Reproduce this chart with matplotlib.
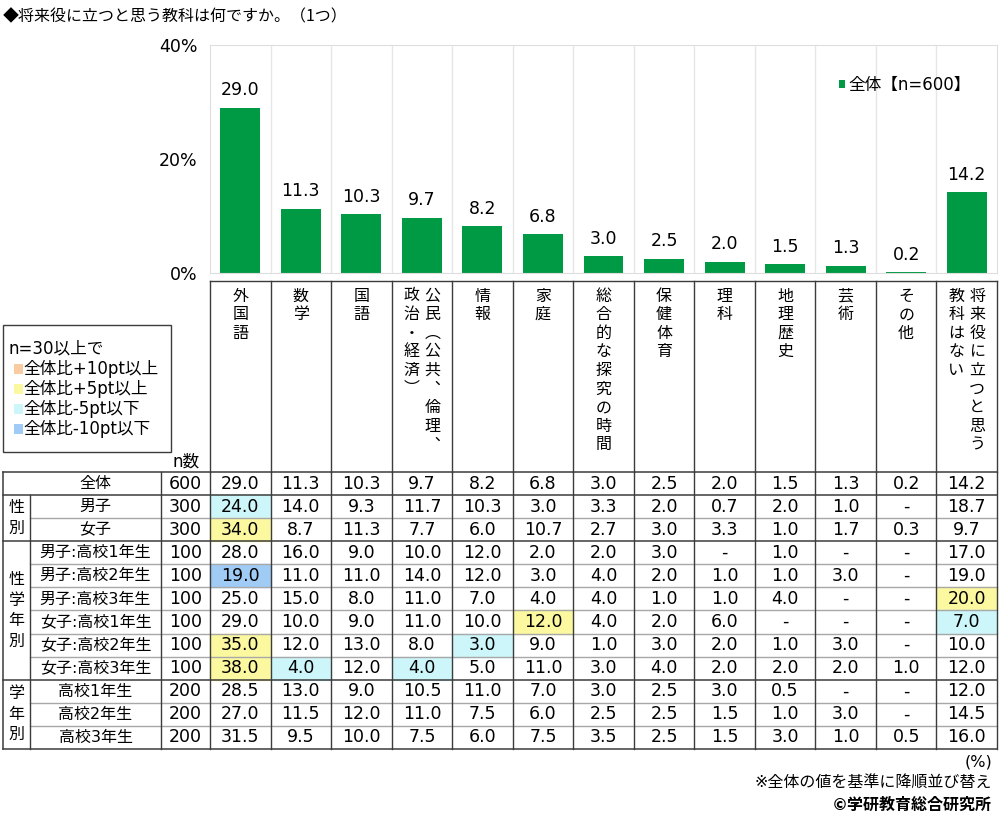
import matplotlib.pyplot as plt
from matplotlib.patches import Rectangle

# Latin glyphs from DejaVu (Verdana-like), Japanese from Noto Sans CJK JP
plt.rcParams['font.family'] = ['DejaVu Sans', 'Noto Sans CJK JP']

# ---- data ----
subjects = ['外国語', '数学', '国語', '公民（公共、倫理、政治・経済）', '情報', '家庭',
            '総合的な探究の時間', '保健体育', '理科', '地理歴史', '芸術', 'その他',
            '将来役に立つと思う教科はない']
# vertical header text, columns listed right to left
header_cols = [['外国語'], ['数学'], ['国語'], ['公民︵公共︑倫理︑', '政治・経済︶'],
               ['情報'], ['家庭'], ['総合的な探究の時間'], ['保健体育'], ['理科'],
               ['地理歴史'], ['芸術'], ['その他'], ['将来役に立つと思う', '教科はない']]
overall = [29.0, 11.3, 10.3, 9.7, 8.2, 6.8, 3.0, 2.5, 2.0, 1.5, 1.3, 0.2, 14.2]

row_names = ['全体', '男子', '女子', '男子:高校1年生', '男子:高校2年生', '男子:高校3年生',
             '女子:高校1年生', '女子:高校2年生', '女子:高校3年生',
             '高校1年生', '高校2年生', '高校3年生']
row_n = [600, 300, 300, 100, 100, 100, 100, 100, 100, 200, 200, 200]
N = None  # "-"
row_values = [
    [29.0, 11.3, 10.3, 9.7, 8.2, 6.8, 3.0, 2.5, 2.0, 1.5, 1.3, 0.2, 14.2],
    [24.0, 14.0, 9.3, 11.7, 10.3, 3.0, 3.3, 2.0, 0.7, 2.0, 1.0, N, 18.7],
    [34.0, 8.7, 11.3, 7.7, 6.0, 10.7, 2.7, 3.0, 3.3, 1.0, 1.7, 0.3, 9.7],
    [28.0, 16.0, 9.0, 10.0, 12.0, 2.0, 2.0, 3.0, N, 1.0, N, N, 17.0],
    [19.0, 11.0, 11.0, 14.0, 12.0, 3.0, 4.0, 2.0, 1.0, 1.0, 3.0, N, 19.0],
    [25.0, 15.0, 8.0, 11.0, 7.0, 4.0, 4.0, 1.0, 1.0, 4.0, N, N, 20.0],
    [29.0, 10.0, 9.0, 11.0, 10.0, 12.0, 4.0, 2.0, 6.0, N, N, N, 7.0],
    [35.0, 12.0, 13.0, 8.0, 3.0, 9.0, 1.0, 3.0, 2.0, 1.0, 3.0, N, 10.0],
    [38.0, 4.0, 12.0, 4.0, 5.0, 11.0, 3.0, 4.0, 2.0, 2.0, 2.0, 1.0, 12.0],
    [28.5, 13.0, 9.0, 10.5, 11.0, 7.0, 3.0, 2.5, 3.0, 0.5, N, N, 12.0],
    [27.0, 11.5, 12.0, 11.0, 7.5, 6.0, 2.5, 2.5, 1.5, 1.0, 3.0, N, 14.5],
    [31.5, 9.5, 10.0, 7.5, 6.0, 7.5, 3.5, 2.5, 1.5, 3.0, 1.0, 0.5, 16.0],
]
groups = [('性別', 1, 2), ('性学年別', 3, 8), ('学年別', 9, 11)]
legend_items = ['全体比+10pt以上', '全体比+5pt以上', '全体比-5pt以下', '全体比-10pt以下']

GREEN = '#009944'
HI_COLORS = ['#F8CBA0', '#FCF8A0', '#CCF6FA', '#9FCBF5']
DARK = '#3c3c3c'
LIGHT = '#a8a8a8'

fig = plt.figure(figsize=(10, 8.21), dpi=100)
bg = fig.add_axes([0, 0, 1, 1])
bg.set_xlim(0, 1000)
bg.set_ylim(821, 0)
bg.axis('off')

# ---- bar chart ----
L, R = 210, 997
TOP, BOT = 45, 273
ax = fig.add_axes([L / 1000, 1 - BOT / 821, (R - L) / 1000, (BOT - TOP) / 821])
ax.patch.set_alpha(0)
xs = range(len(subjects))
bars = ax.bar(xs, overall, width=0.66, color=GREEN, label='全体【n=600】', zorder=2)
ax.bar_label(bars, labels=[f'{v:.1f}' for v in overall], padding=6, fontsize=12.5)
ax.set_xlim(-0.5, len(subjects) - 0.5)
ax.set_ylim(0, 40)
ax.set_yticks([0, 20, 40], ['0%', '20%', '40%'], fontsize=12.5)
ax.set_xticks([])
ax.set_xticks([i + 0.5 for i in range(len(subjects) - 1)], minor=True)
ax.grid(axis='x', which='minor', color='#e6e6e6', lw=1)
ax.tick_params(which='both', length=0, pad=9)
for s in ax.spines.values():
    s.set_color('#dedede')
ax.legend(loc='center', bbox_to_anchor=(0.883, 0.824), frameon=False, fontsize=12,
          handlelength=0.4, handleheight=0.4, handletextpad=0.2)

bg.text(3, 17, '◆将来役に立つと思う教科は何ですか。（1つ）', fontsize=11.5, va='center',
        family=['Noto Sans CJK JP', 'DejaVu Sans'])

# ---- header (vertical labels) ----
HEAD_TOP, T_TOP, T_BOT = 281, 472, 749
cw = (R - L) / len(subjects)
bg.plot([L, R], [HEAD_TOP, HEAD_TOP], color=DARK, lw=1)
for j in range(len(subjects) + 1):
    bg.plot([L + j * cw, L + j * cw], [HEAD_TOP, T_TOP], color=DARK, lw=1)
for j, cols in enumerate(header_cols):
    xc = L + (j + 0.5) * cw
    offs = [0] if len(cols) == 1 else [10.5, -10.5]
    for col, dx in zip(cols, offs):
        for k, ch in enumerate(col):
            bg.text(xc + dx, 300.5 + k * 18.6, ch, fontsize=11.5, ha='center', va='baseline')

# ---- left legend box ----
bg.add_patch(Rectangle((3, 325), 168, 127, fill=False, edgecolor=DARK, lw=1))
bg.text(8, 348, 'n=30以上で', fontsize=12, va='center')
for k, (lab, c) in enumerate(zip(legend_items, HI_COLORS)):
    y = 369 + k * 20
    bg.add_patch(Rectangle((14, y - 5), 9, 10, color=c, lw=0))
    bg.text(23, y, lab, fontsize=12, va='center')
bg.text(186, 462, 'n数', fontsize=12, ha='center', va='center')

# ---- table ----
X0, XG, XN = 3, 30, 161
rh = (T_BOT - T_TOP) / len(row_names)
base = row_values[0]
for i, vals in enumerate(row_values):
    yc = T_TOP + (i + 0.5) * rh
    bg.text((XG + XN) / 2, yc, row_names[i], fontsize=11.5, ha='center', va='center')
    bg.text((XN + L) / 2, yc, str(row_n[i]), fontsize=12.5, ha='center', va='center')
    for j, v in enumerate(vals):
        xc = L + (j + 0.5) * cw
        if v is None:
            bg.text(xc, yc, '-', fontsize=12.5, ha='center', va='center')
            continue
        if i > 0 and row_n[i] >= 30:
            d = v - base[j]
            c = None
            if d >= 10:
                c = HI_COLORS[0]
            elif d >= 5:
                c = HI_COLORS[1]
            elif d <= -10:
                c = HI_COLORS[3]
            elif d <= -5:
                c = HI_COLORS[2]
            if c:
                bg.add_patch(Rectangle((L + j * cw, T_TOP + i * rh), cw, rh, color=c, zorder=0))
        bg.text(xc, yc, f'{v:.1f}', fontsize=12.5, ha='center', va='center')

group_edges = {0, 1} | {g[1] for g in groups} | {len(row_names)}
for b in range(len(row_names) + 1):
    y = T_TOP + b * rh
    if b in group_edges:
        bg.plot([X0, R], [y, y], color=DARK, lw=1.1)
    else:
        bg.plot([XG, R], [y, y], color=LIGHT, lw=1)
bg.plot([X0, X0], [T_TOP, T_BOT], color=DARK, lw=1.1)
bg.plot([XG, XG], [T_TOP + rh, T_BOT], color=DARK, lw=1)
for xv in [XN] + [L + j * cw for j in range(len(subjects) + 1)]:
    bg.plot([xv, xv], [T_TOP, T_BOT], color=DARK, lw=1)

for name, r0, r1 in groups:
    ym = T_TOP + (r0 + r1 + 1) / 2 * rh
    n = len(name)
    pitch = 20.5
    for k, ch in enumerate(name):
        bg.text((X0 + XG) / 2, ym + (k - (n - 1) / 2) * pitch, ch, fontsize=11.5,
                ha='center', va='center')

# ---- footer ----
bg.text(992, 762, '(%)', fontsize=11.5, ha='right', va='center')
bg.text(992, 783, '※全体の値を基準に降順並び替え', fontsize=11.5, ha='right', va='center')
bg.text(992, 805, '©学研教育総合研究所', fontsize=11.5, ha='right', va='center', weight='bold')

fig.savefig('out.png', dpi=100)
